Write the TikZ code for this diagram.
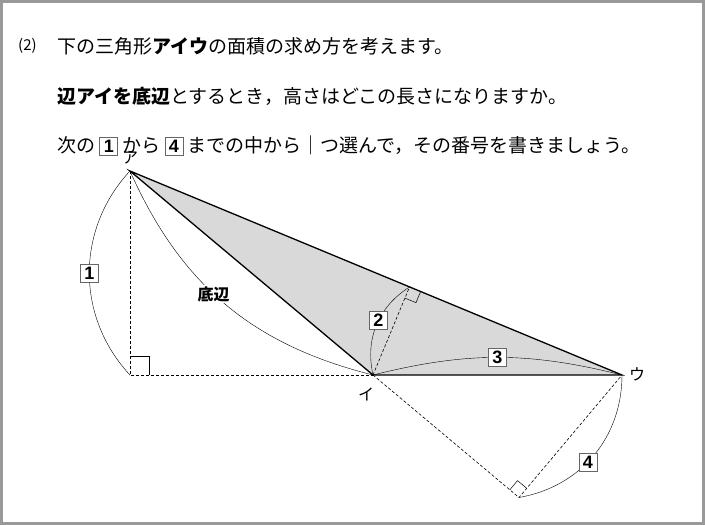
\documentclass[tikz,border=0pt]{standalone}
\usepackage{fontspec}
\usetikzlibrary{calc}
\setmainfont{Noto Sans CJK JP}
\newfontfamily\numfont{Liberation Sans}
\begin{document}
\begin{tikzpicture}[x=1pt,y=-1pt,
  txt/.style={anchor=west,inner sep=0pt,font=\fontsize{19}{19}\selectfont},
  numbox/.style={draw=black!60,fill=white,line width=0.6pt,inner sep=1.5pt,minimum width=18pt,minimum height=18pt,font=\numfont\bfseries\fontsize{18}{18}\selectfont},
  dim/.style={line width=0.4pt},
  hdash/.style={dashed,line width=0.6pt,dash pattern=on 3pt off 2pt},
  vlab/.style={font=\fontsize{16}{16}\selectfont,inner sep=1pt}]
\useasboundingbox (0,0) rectangle (705,525);
\draw[black!40,line width=3pt] (1.5,1.5) rectangle (703.5,523.5);
\node[txt] (l1a) at (18,46) {\fontsize{15}{15}\selectfont(2)};
\node[txt] (l1) at (57,46) {下の三角形\textbf{アイウ}の面積の求め方を考えます。};
\node[txt] (l2) at (57,96) {\textbf{辺アイを底辺}とするとき，高さはどこの長さになりますか。};
\node[txt] (l3) at (57,146) {次の\ \tikz[baseline=-6pt]\node[numbox]{1};\ から\ \tikz[baseline=-6pt]\node[numbox]{4};\ までの中から｜つ選んで，その番号を書きましょう。};
\coordinate (A) at (130,171);
\coordinate (I) at (373,375);
\coordinate (U) at (622,375);
\coordinate (F1) at (130,375);
\coordinate (F2) at (409.5,287);
\coordinate (F4) at (519,497.5);
\fill[black!15] (A) -- (I) -- (U) -- cycle;
\draw[hdash] (A) -- (F1) -- (I);
\draw[hdash] (I) -- (F2);
\draw[hdash] (I) -- (F4) -- (U);
\draw[line width=0.5pt] (130,356) -- (149,356) -- (149,375);
\draw[line width=0.5pt] ($(F2)!12pt!(U)$) -- ++($(F2)!12pt!(I)-(F2)$) -- ($(F2)!12pt!(I)$);
\draw[line width=0.5pt] ($(F4)!12pt!(I)$) -- ++($(F4)!12pt!(U)-(F4)$) -- ($(F4)!12pt!(U)$);
\draw[line width=1.3pt] (A) -- (I) -- (U) -- cycle;
\draw[dim] (A) to[bend right=43] node[numbox,pos=0.5] (n1) {1} (F1);
\draw[dim] (A) to[bend right=26] node[fill=white,inner sep=1pt,pos=0.45,font=\bfseries\fontsize{16}{16}\selectfont] (base) {底辺} (I);
\draw[dim] (I) to[bend left=35] node[numbox,pos=0.55] (n2) {2} (F2);
\draw[dim] (I) to[bend left=14] node[numbox,pos=0.5] (n3) {3} (U);
\draw[dim] (U) to[bend left=40] node[numbox,pos=0.55] (n4) {4} (F4);
\node[vlab] (la) at (130,158) {ア};
\node[vlab] (li) at (366,394) {イ};
\node[vlab] (lu) at (637,374) {ウ};
\end{tikzpicture}
\end{document}
